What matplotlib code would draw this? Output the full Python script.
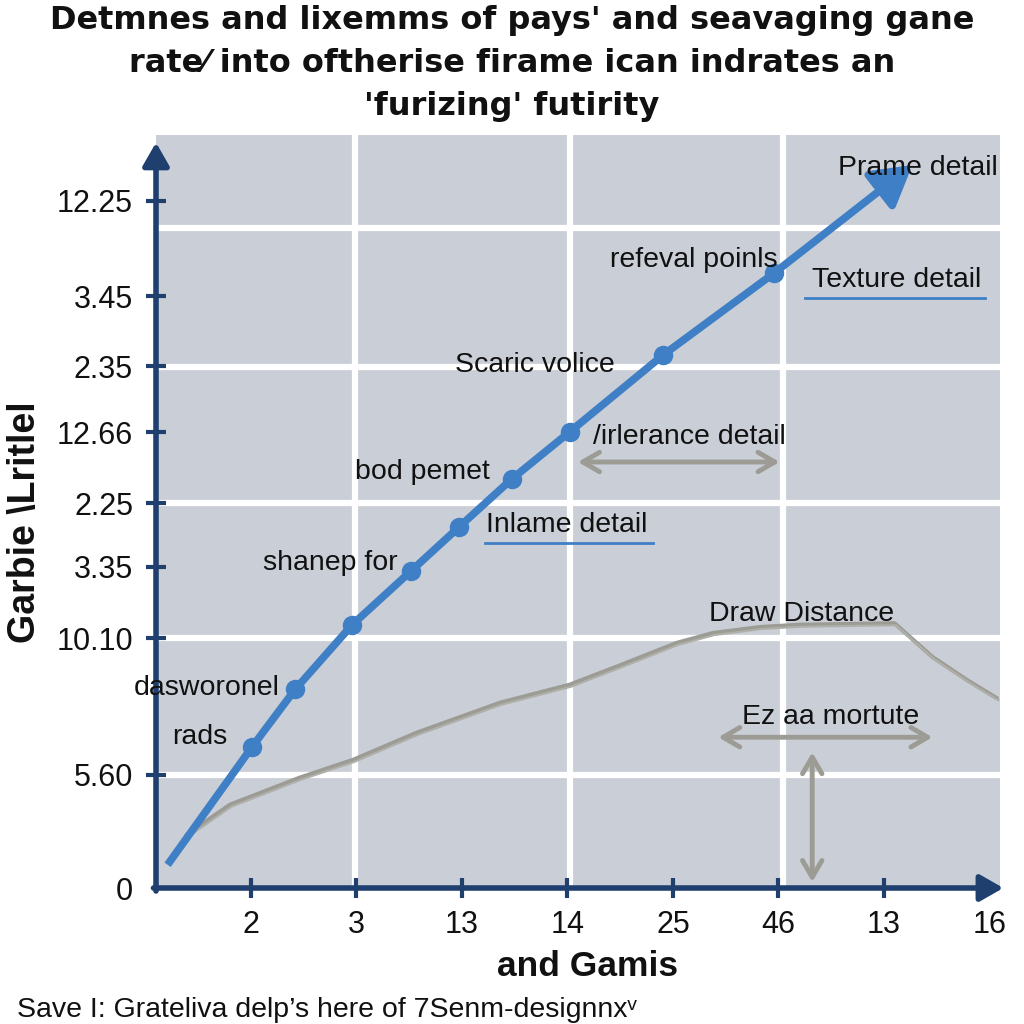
import numpy as np
import matplotlib.pyplot as plt
from matplotlib import transforms

plt.rcParams['font.family'] = ['Liberation Sans', 'DejaVu Sans']

# Tick labels (the source axis labels are not monotonic, so they sit on fixed slots)
x_ticks = [1, 2, 3, 4, 5, 6, 7, 8]
x_labels = ["2", "3", "13", "14", "25", "46", "13", "16"]
y_ticks = [0, 1.51, 3.33, 4.28, 5.13, 6.08, 6.96, 7.89, 9.16]
y_labels = ["0", "5.60", "10.10", "3.35", "2.25", "12.66", "2.35", "3.45", "12.25"]

# Grid lines of the panel
grid_x = [1.99, 4.02, 6.04]
grid_y = [1.51, 3.33, 5.13, 6.95, 8.8]

# Blue series (first point has no marker, last one is the arrow tip)
blue_x = [0.21, 1.01, 1.42, 1.96, 2.52, 2.97, 3.47, 4.02, 4.91, 5.96, 7.27]
blue_y = [0.31, 1.88, 2.65, 3.51, 4.23, 4.81, 5.45, 6.08, 7.11, 8.20, 9.64]

# Gray "Draw Distance" series
gray_x = [0.39, 0.80, 1.46, 1.97, 2.57, 3.36, 4.02, 4.50, 5.04, 5.38, 5.83,
          6.20, 7.10, 7.46, 7.79, 8.07]
gray_y = [0.71, 1.11, 1.47, 1.71, 2.07, 2.47, 2.71, 2.97, 3.27, 3.40, 3.48,
          3.51, 3.53, 3.08, 2.77, 2.53]

# Annotations: text, x, y
notes = [
    ("Prame detail", 7.32, 9.60),
    ("refeval poinls", 5.20, 8.37),
    ("Texture detail", 7.12, 8.11),
    ("Scaric volice", 3.69, 6.97),
    ("/irlerance detail", 5.16, 6.01),
    ("bod pemet", 2.63, 5.55),
    ("Inlame detail", 3.99, 4.84),
    ("shanep for", 1.75, 4.33),
    ("Draw Distance", 6.22, 3.65),
    ("dasworonel", 0.58, 2.67),
    ("rads", 0.51, 2.01),
    ("Ez aa mortute", 6.49, 2.28),
]

blue = "#3f7fc6"
gray = "#9c9c95"
navy = "#1f3f6e"
panel = "#c9ced7"

fig = plt.figure(figsize=(10.24, 10.24), dpi=100)
ax = fig.add_axes([156 / 1024, 136 / 1024, 844 / 1024, 753 / 1024])
ax.set_facecolor(panel)
ax.set_xlim(0.1, 8.1)
ax.set_ylim(0, 10.04)
for s in ax.spines.values():
    s.set_visible(False)

for gx in grid_x:
    ax.axvline(gx, color="white", lw=4.5, zorder=1)
for gy in grid_y:
    ax.axhline(gy, color="white", lw=4.5, zorder=1)

# axes with arrow heads
ax.annotate("", xy=(1.004, 0), xytext=(-0.003, 0), xycoords="axes fraction",
            arrowprops=dict(arrowstyle="-|>,head_length=0.7,head_width=0.4", lw=4,
                            color=navy, shrinkA=0, shrinkB=0, mutation_scale=20),
            annotation_clip=False, zorder=5)
ax.annotate("", xy=(0, 0.99), xytext=(0, -0.004), xycoords="axes fraction",
            arrowprops=dict(arrowstyle="-|>,head_length=0.7,head_width=0.4", lw=4,
                            color=navy, shrinkA=0, shrinkB=0, mutation_scale=20),
            annotation_clip=False, zorder=5)

ax.set_xticks(x_ticks)
ax.set_xticklabels(x_labels)
ax.set_yticks(y_ticks)
ax.set_yticklabels(y_labels)
ax.tick_params(axis="both", direction="inout", length=15, width=3, color=navy,
               labelsize=22, labelcolor="#111111")
ax.tick_params(axis="y", pad=9)
ax.tick_params(axis="x", pad=8)
ax.xaxis.get_major_ticks()[-1].tick1line.set_visible(False)
ax.yaxis.get_major_ticks()[0].tick1line.set_visible(False)

# gray sketchy line
ax.plot(gray_x, gray_y, color=gray, lw=3, zorder=3, solid_capstyle="round")
offset = transforms.offset_copy(ax.transData, fig=fig, x=1.5, y=-2, units="dots")
ax.plot(gray_x, gray_y, color="#b0b0aa", lw=1.5, zorder=3, transform=offset)

# blue line with markers and arrow end
ax.plot(blue_x[:-1], blue_y[:-1], color=blue, lw=5.5, marker="o", markersize=13,
        markevery=list(range(1, len(blue_x) - 1)), zorder=4, solid_capstyle="butt")
ax.annotate("", xy=(blue_x[-1], blue_y[-1]), xytext=(blue_x[-2], blue_y[-2]),
            arrowprops=dict(arrowstyle="-|>,head_length=1.2,head_width=0.7", lw=5.5,
                            color=blue, shrinkA=0, shrinkB=0, mutation_scale=20),
            zorder=4)

for txt, tx, ty in notes:
    ax.text(tx, ty, txt, fontsize=20.5, color="#111111", ha="center", va="center",
            zorder=6)

# underlines
ax.plot([6.25, 7.96], [7.87, 7.87], color=blue, lw=2, zorder=5)
ax.plot([3.22, 4.81], [4.60, 4.60], color=blue, lw=2, zorder=5)

# gray double arrows
double = dict(arrowstyle="<->,head_length=0.6,head_width=0.35", lw=3.5, color=gray,
              shrinkA=0, shrinkB=0, mutation_scale=20)
ax.annotate("", xy=(6.01, 5.68), xytext=(4.10, 5.68), arrowprops=double, zorder=5)
ax.annotate("", xy=(7.46, 2.01), xytext=(5.43, 2.01), arrowprops=double, zorder=5)
ax.annotate("", xy=(6.32, 0.08), xytext=(6.32, 1.81), arrowprops=double, zorder=5)

fig.text(0.5, 1 - 5 / 1024,
         "Detmnes and lixemms of pays' and seavaging gane\n"
         "rate\u2044 into oftherise firame ican indrates an\n"
         "'furizing' futirity",
         ha="center", va="top", fontsize=23, fontweight="bold",
         family=["DejaVu Sans"], linespacing=1.5, color="#111111")
fig.text(25 / 1024, 1 - 522 / 1024, "Garbie \\Lritlel", rotation=90, ha="center",
         va="center", fontsize=27, fontweight="bold", color="#111111")
fig.text(588 / 1024, 1 - 967 / 1024, "and Gamis", ha="center", va="center",
         fontsize=25.5, fontweight="bold", color="#111111")
fig.text(17 / 1024, 1 - 1017 / 1024,
         "Save I: Grateliva delp\u2019s here of 7Senm-designnx\u1d5b",
         ha="left", va="baseline", fontsize=20.5, color="#111111")

fig.savefig("out.png", dpi=100, facecolor="white")
